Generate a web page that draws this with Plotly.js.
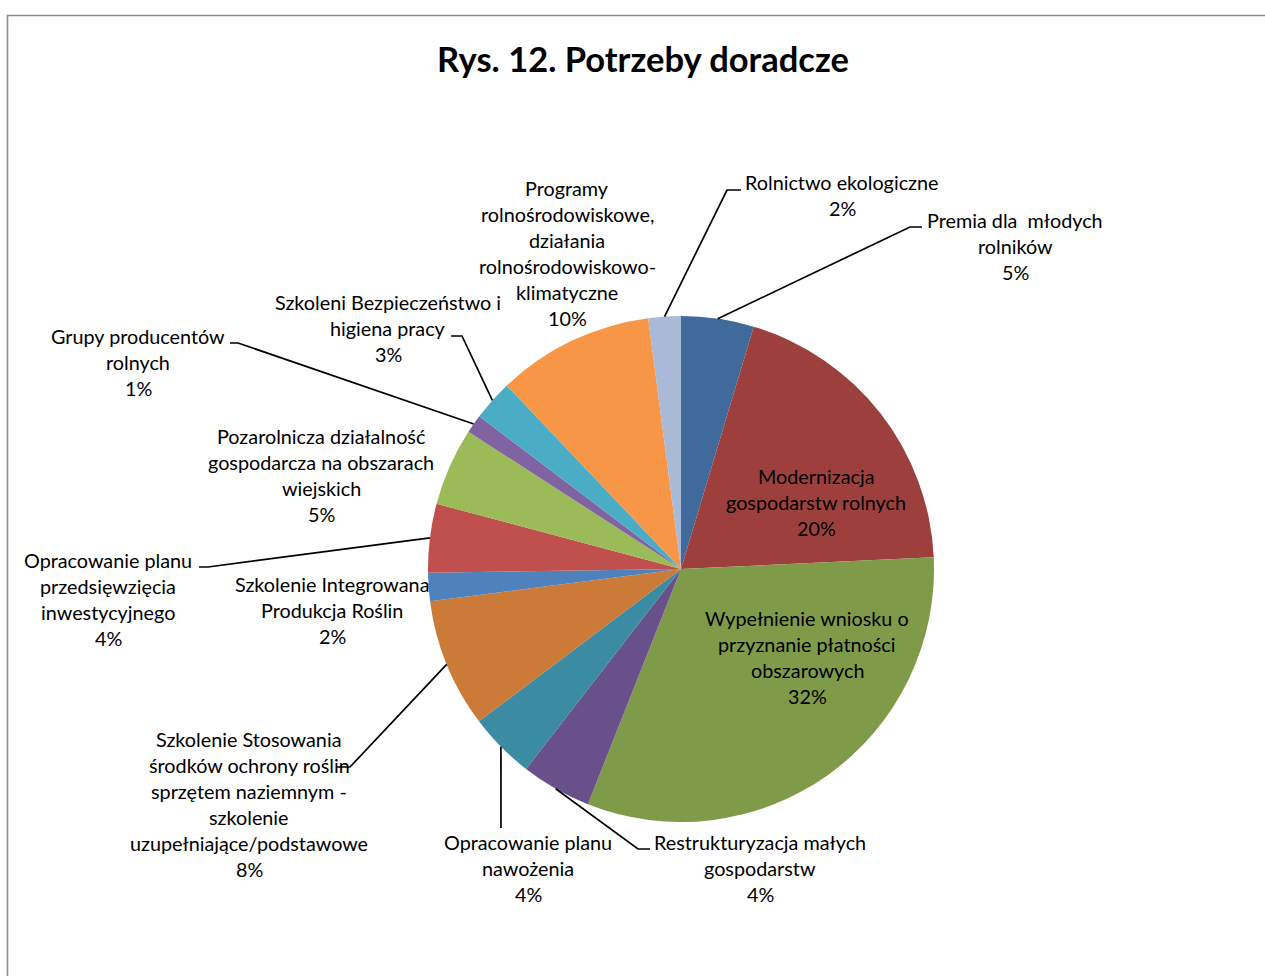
<!DOCTYPE html>
<html><head><meta charset="utf-8">
<script src="https://cdn.plot.ly/plotly-3.0.1.min.js"></script>
<style>html,body{margin:0;padding:0;background:#fff}</style>
</head><body><div id="chart" style="width:1265px;height:976px"></div>
<script>
// ---- data (clockwise from 12 o'clock) ----
const categories = [
  "Premia dla młodych rolników",
  "Modernizacja gospodarstw rolnych",
  "Wypełnienie wniosku o przyznanie płatności obszarowych",
  "Restrukturyzacja małych gospodarstw",
  "Opracowanie planu nawożenia",
  "Szkolenie Stosowania środków ochrony roślin sprzętem naziemnym - szkolenie uzupełniające/podstawowe",
  "Szkolenie Integrowana Produkcja Roślin",
  "Opracowanie planu przedsięwzięcia inwestycyjnego",
  "Pozarolnicza działalność gospodarcza na obszarach wiejskich",
  "Grupy producentów rolnych",
  "Szkoleni Bezpieczeństwo i higiena pracy",
  "Programy rolnośrodowiskowe, działania rolnośrodowiskowo-klimatyczne",
  "Rolnictwo ekologiczne"
];
const values = [4.64, 19.62, 31.74, 4.49, 4.23, 8.25, 1.80, 4.38, 4.97, 1.19, 2.60, 10.02, 2.07];
const labelLines = [
  ["Premia dla\u00a0 młodych", "rolników"],
  ["Modernizacja", "gospodarstw rolnych"],
  ["Wypełnienie wniosku o", "przyznanie płatności", "obszarowych"],
  ["Restrukturyzacja małych", "gospodarstw"],
  ["Opracowanie planu", "nawożenia"],
  ["Szkolenie Stosowania", "środków ochrony roślin", "sprzętem naziemnym -", "szkolenie", "uzupełniające/podstawowe"],
  ["Szkolenie Integrowana", "Produkcja Roślin"],
  ["Opracowanie planu", "przedsięwzięcia", "inwestycyjnego"],
  ["Pozarolnicza działalność", "gospodarcza na obszarach", "wiejskich"],
  ["Grupy producentów", "rolnych"],
  ["Szkoleni Bezpieczeństwo i", "higiena pracy"],
  ["Programy", "rolnośrodowiskowe,", "działania", "rolnośrodowiskowo-", "klimatyczne"],
  ["Rolnictwo ekologiczne"]
];
const chartTitle = "Rys. 12. Potrzeby doradcze";

// ---- styles / layout ----
const colors = ["#416A9C","#9D403D","#7F9A48","#68508A","#3B8BA2","#CB7A37",
                "#4F81BD","#C0504D","#9BBB59","#8064A2","#4BACC6","#F79646","#A9B9D8"];
const W = 1265, H = 976;
const CX = 681, CY = 569, R = 253;
// label block: [centre x, first line y]
const labelPos = [[1015,220],[816,476],[807,618],[760,842],[528,842],[249,739],
                  [332,584],[108,560],[321,436],[138,336],[388,302],[567,188],[842,182]];
// leader line bend points (pixels); null = no leader
const leaders = [
  [[910,227],[922,227]],
  null, null,
  [[638,849],[650,849]],
  [[501,828]],
  [[350,767],[337,767]],
  null,
  [[208,567],[199,567]],
  null,
  [[238,343],[230,343]],
  [[462,336],[451,336]],
  null,
  [[727,190],[741,190]]
];
const LINE_H = 26;
const FONT = "Lato, 'Open Sans', sans-serif";
const FS = 19.8;

const px = x => x / W;
const py = y => 1 - y / H;
const total = values.reduce((a,b)=>a+b,0);

const annotations = [];
const shapes = [];

// frame
shapes.push({type:'rect', xref:'paper', yref:'paper', x0:px(7.5), x1:1.2, y0:-0.2, y1:py(15.5),
  line:{color:'#8c8c8c', width:1.6}, fillcolor:'rgba(0,0,0,0)', layer:'below'});

let cum = 0;
values.forEach((v,i)=>{
  const mid = (cum + v/2) / total * 2 * Math.PI;
  cum += v;
  const pct = Math.round(v/total*100) + "%";
  const lines = labelLines[i].concat([pct]);
  const [lx, ly] = labelPos[i];
  lines.forEach((t,k)=>{
    annotations.push({xref:'paper', yref:'paper', x:px(lx), y:py(ly + k*LINE_H),
      text:t, showarrow:false, xanchor:'center', yanchor:'middle',
      font:{family:FONT, size:FS, color:'#000'}});
  });
  if (leaders[i]) {
    const sx = CX + R*Math.sin(mid), sy = CY - R*Math.cos(mid);
    let p = `M ${px(sx)},${py(sy)}`;
    leaders[i].forEach(([x,y])=>{ p += ` L ${px(x)},${py(y)}`; });
    shapes.push({type:'path', xref:'paper', yref:'paper', path:p,
      line:{color:'#000', width:1.7}, layer:'above'});
  }
});

const trace = {
  type:'pie', labels:categories, values:values, sort:false, direction:'clockwise',
  rotation:0, textinfo:'none', hoverinfo:'label+percent',
  marker:{colors:colors, line:{width:0}},
  domain:{x:[px(CX-R), px(CX+R)], y:[py(CY+R), py(CY-R)]},
  showlegend:false
};

const layout = {
  width:W, height:H, margin:{l:0,r:0,t:0,b:0},
  paper_bgcolor:'#fff', plot_bgcolor:'#fff', showlegend:false,
  title:{text:chartTitle, x:px(643), xanchor:'center', y:py(60), yanchor:'middle',
    font:{family:FONT, size:34.5, color:'#000', weight:'bold'}},
  annotations:annotations, shapes:shapes
};

Plotly.newPlot('chart', [trace], layout, {displayModeBar:false, staticPlot:true});
</script></body></html>
